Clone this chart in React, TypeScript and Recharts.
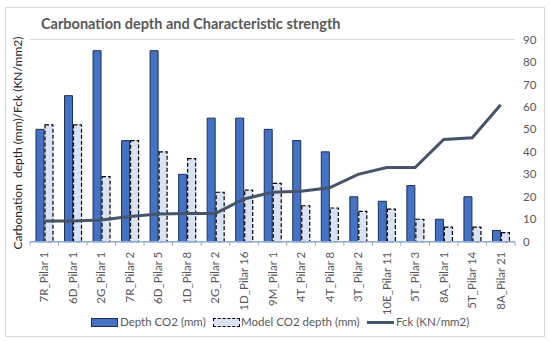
import React from "react";
import { ComposedChart, Bar, Line, XAxis, YAxis, CartesianGrid } from "recharts";

const pillars = [
  "7R_Pilar 1", "6D_Pilar 1", "2G_Pilar 1", "7R_Pilar 2", "6D_Pilar 5", "1D_Pilar 8",
  "2G_Pilar 2", "1D_Pilar 16", "9M_Pilar 1", "4T_Pilar 2", "4T_Pilar 8", "3T_Pilar 2",
  "10E_Pilar 11", "5T_Pilar 3", "8A_Pilar 1", "5T_Pilar 14", "8A_Pilar 21",
];
const depthCO2 = [50, 65, 85, 45, 85, 30, 55, 55, 50, 45, 40, 20, 18, 25, 10, 20, 5];
const modelCO2 = [52, 52, 29, 45, 40, 37, 22, 23, 26, 16, 15, 13.5, 14.5, 10, 6.5, 6.5, 4];
const fck = [9.2, 9.2, 9.7, 11.2, 12.3, 12.5, 12.6, 19, 22, 22.5, 24, 30, 33, 33, 45.5, 46.3, 61];
const yTicks = [0, 10, 20, 30, 40, 50, 60, 70, 80, 90];

const data = pillars.map((name, i) => ({
  name,
  depth: depthCO2[i],
  model: modelCO2[i],
  fck: fck[i],
}));

const FONT = "Lato, 'Open Sans', sans-serif";
const GREY = "#595959";
const AXIS = "#8FAADC";

// rotated category label, plus the small tick marks that sit between categories
function XTick(props: any) {
  const { x, y, payload, index, visibleTicksCount } = props;
  const half = payload.offset || 0;
  const axisY = y - 8;
  const ty = y + 2;
  return (
    <g>
      <line x1={x - half} x2={x - half} y1={axisY} y2={axisY + 4} stroke={AXIS} />
      {index === visibleTicksCount - 1 && (
        <line x1={x + half} x2={x + half} y1={axisY} y2={axisY + 4} stroke={AXIS} />
      )}
      <text
        x={x}
        y={ty}
        transform={`rotate(-90, ${x}, ${ty})`}
        textAnchor="end"
        dy="0.35em"
        fontSize={11.5}
        fill={GREY}
        fontFamily={FONT}
      >
        {payload.value}
      </text>
    </g>
  );
}

const legendText = { position: "absolute" as const, top: 0, fontSize: 11.5, color: GREY, whiteSpace: "nowrap" as const, lineHeight: "16px" };

export default function App() {
  return (
    <div style={{ position: "absolute", left: 5, top: 7, width: 540, height: 330, fontFamily: FONT }}>
      <div
        style={{
          position: "absolute",
          left: 0,
          top: 0,
          width: 538,
          height: 328,
          border: "1px solid #d9d9d9",
        }}
      />
      <div
        style={{
          position: "absolute",
          left: 36,
          top: 8,
          fontSize: 14.5,
          fontWeight: 700,
          color: GREY,
          whiteSpace: "nowrap",
        }}
      >
        Carbonation depth and Characteristic strength
      </div>
      <div style={{ position: "absolute", left: 12, top: 136, width: 0, height: 0 }}>
        <div
          style={{
            position: "absolute",
            transform: "translate(-50%, -50%) rotate(-90deg)",
            fontSize: 12,
            color: "#262626",
            whiteSpace: "pre",
          }}
        >
          {"Carbonation  depth (mm)/Fck (KN/mm2)"}
        </div>
      </div>
      <ComposedChart
        width={540}
        height={330}
        data={data}
        margin={{ top: 32.5, right: 0, left: 25, bottom: 25.3 }}
        barCategoryGap="21%"
        barGap={1}
      >
        <CartesianGrid vertical={false} stroke="#d9d9d9" />
        <XAxis
          dataKey="name"
          interval={0}
          height={70}
          tick={<XTick />}
          tickLine={false}
          axisLine={{ stroke: AXIS, strokeWidth: 1.5 }}
        />
        <YAxis
          yAxisId="r"
          orientation="right"
          width={30}
          domain={[0, 90]}
          ticks={yTicks}
          interval={0}
          tickLine={false}
          axisLine={false}
          tick={{ fontSize: 11.5, fill: GREY, fontFamily: FONT }}
        />
        <Bar
          yAxisId="r"
          dataKey="depth"
          name="Depth CO2 (mm)"
          fill="#4472C4"
          stroke="#1F2F50"
          strokeWidth={1}
          isAnimationActive={false}
        />
        <Bar
          yAxisId="r"
          dataKey="model"
          name="Model CO2 depth (mm)"
          fill="#DAE3F3"
          stroke="#000000"
          strokeWidth={1.2}
          strokeDasharray="4 2"
          isAnimationActive={false}
        />
        <Line
          yAxisId="r"
          type="linear"
          dataKey="fck"
          name="Fck (KN/mm2)"
          stroke="#44546A"
          strokeWidth={3}
          dot={false}
          isAnimationActive={false}
        />
      </ComposedChart>
      <div style={{ position: "absolute", left: 0, top: 307, width: 540, height: 16 }}>
        <span style={{ position: "absolute", left: 86, top: 4, width: 25, height: 7, background: "#4472C4", border: "1px solid #1F2F50" }} />
        <span style={{ ...legendText, left: 115 }}>Depth CO2 (mm)</span>
        <span style={{ position: "absolute", left: 208, top: 4, width: 25, height: 7, background: "#DAE3F3", border: "1.2px dashed #000" }} />
        <span style={{ ...legendText, left: 236 }}>Model CO2 depth (mm)</span>
        <span style={{ position: "absolute", left: 362, top: 7, width: 27, height: 3, background: "#44546A" }} />
        <span style={{ ...legendText, left: 391 }}>Fck (KN/mm2)</span>
      </div>
    </div>
  );
}
